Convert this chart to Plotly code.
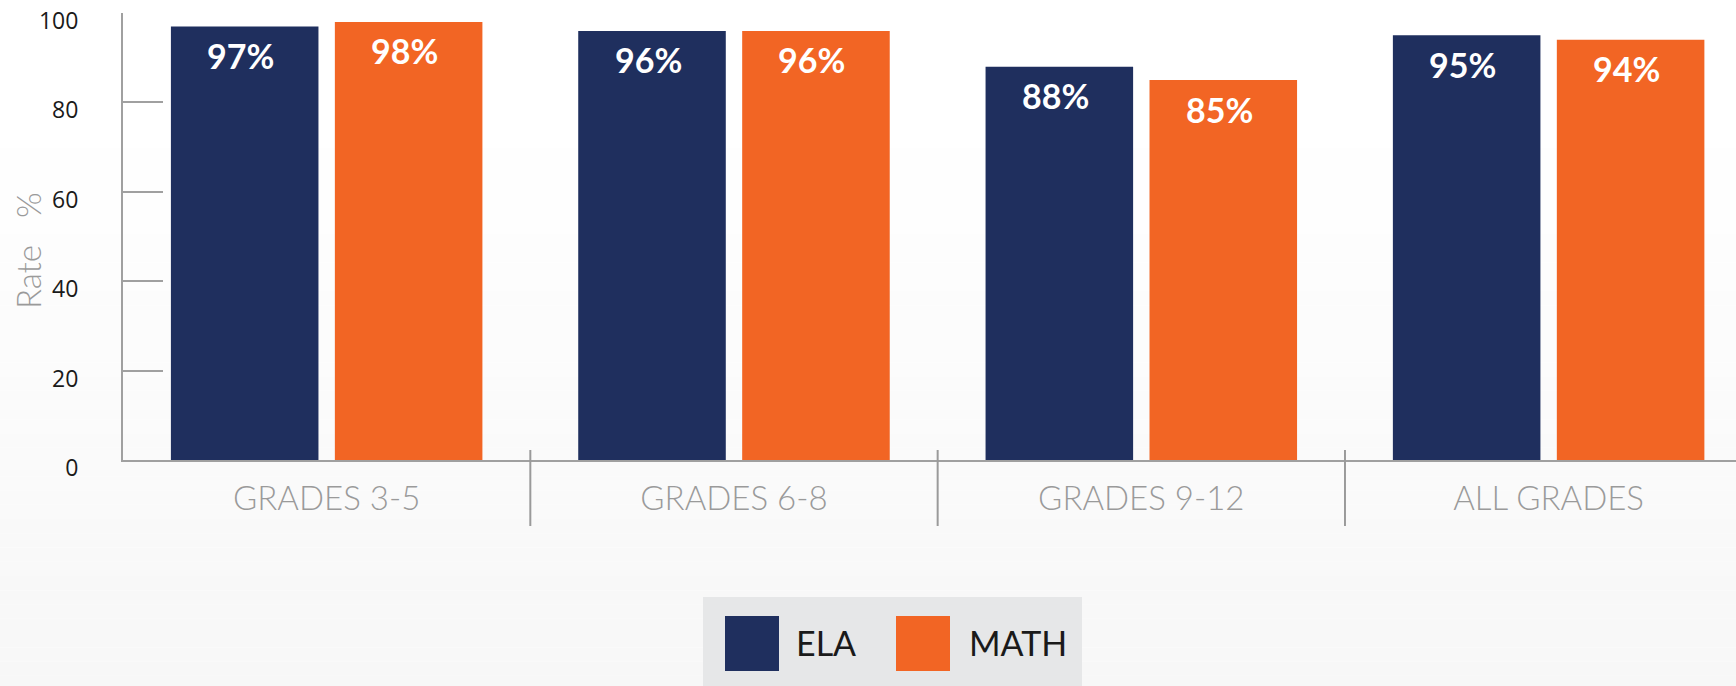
import plotly.graph_objects as go

categories = ["GRADES 3-5", "GRADES 6-8", "GRADES 9-12", "ALL GRADES"]
series_names = ["ELA", "MATH"]
ela_values = [97, 96, 88, 95]
math_values = [98, 96, 85, 94]
y_ticks = [0, 20, 40, 60, 80, 100]
colors = ["#1f2f5e", "#f26524"]

W, H = 1736, 686
ML, MR, MT, MB = 123, 0, 13, 226
PW = W - ML - MR
PH = H - MT - MB
BARGAP = 0.195
BARGROUPGAP = 0.10
XMAX = 3.46
cat_px = PW / (XMAX + 0.5)

def px_x(px):
    return (px - ML) / PW

def px_y(py):
    return (H - MB - py) / PH

fig = go.Figure()
for name, vals, col in zip(series_names, [ela_values, math_values], colors):
    fig.add_trace(go.Bar(x=categories, y=vals, name=name, marker=dict(color=col, line=dict(width=0)),
                         showlegend=False))

shapes = []
# background gradient
n = 40
top, bot = 120, 690
for i in range(n):
    y0p = top + (bot - top) * i / n
    y1p = top + (bot - top) * (i + 1) / n
    t = (i + 0.5) / n
    c = int(round(255 - 8 * t))
    shapes.append(dict(type="rect", xref="paper", yref="paper", x0=px_x(-2), x1=px_x(1740),
                       y0=px_y(y1p), y1=px_y(y0p), fillcolor=f"rgb({c},{c},{c})",
                       line=dict(width=0), layer="below"))
# category dividers
for b in [0.5, 1.5, 2.5]:
    shapes.append(dict(type="line", xref="x", yref="paper", x0=b, x1=b, y0=px_y(526), y1=px_y(450),
                       line=dict(color="#9a9a9a", width=2)))
# legend box
shapes.append(dict(type="rect", xref="paper", yref="paper", x0=px_x(703), x1=px_x(1082),
                   y0=px_y(690), y1=px_y(597), fillcolor="#e6e7e8", line=dict(width=0)))
sw_x = [725, 896]
txt_x = [794, 967]
for i, (name, col) in enumerate(zip(series_names, colors)):
    shapes.append(dict(type="rect", xref="paper", yref="paper", x0=px_x(sw_x[i]), x1=px_x(sw_x[i] + 54),
                       y0=px_y(671), y1=px_y(616), fillcolor=col, line=dict(width=0)))

annotations = []
for i, name in enumerate(series_names):
    annotations.append(dict(xref="paper", yref="paper", x=px_x(txt_x[i]), y=px_y(642), text=name,
                            showarrow=False, xanchor="left", yanchor="middle",
                            font=dict(family="Lato", size=34, color="#1a1a1a")))

# bar value labels
slot = cat_px * (1 - BARGAP) / 2
for k, vals in enumerate([ela_values, math_values]):
    off = (k - 0.5) * slot - 4
    for c, v in zip(categories, vals):
        annotations.append(dict(x=c, y=v, xref="x", yref="y", text=f"{v}%", showarrow=False,
                                xshift=off, yshift=-29, yanchor="middle",
                                font=dict(family="Lato", size=34, color="white", weight="bold")))

annotations.append(dict(xref="paper", yref="paper", x=px_x(28), y=px_y(251), text="Rate\u00a0\u00a0\u00a0%",
                        textangle=-90, showarrow=False, xanchor="center", yanchor="middle",
                        font=dict(family="Lato", size=33, color="#9a9a9a", weight=300)))

fig.update_layout(
    width=W, height=H,
    margin=dict(l=ML, r=MR, t=MT, b=MB, pad=0, autoexpand=False),
    paper_bgcolor="white", plot_bgcolor="rgba(0,0,0,0)",
    barmode="group", bargap=BARGAP, bargroupgap=BARGROUPGAP,
    shapes=shapes, annotations=annotations, showlegend=False,
    xaxis=dict(range=[-0.5, XMAX], showline=True, linecolor="#a0a0a0", linewidth=2,
               ticks="", showgrid=False, zeroline=False, ticklabelstandoff=8, automargin=False,
               tickfont=dict(family="Lato", size=33, color="#9a9a9a", weight=300)),
    yaxis=dict(range=[0, 100.001], tickvals=y_ticks, showline=True, linecolor="#a0a0a0", linewidth=2,
               ticks="inside", ticklen=40, tickwidth=2, tickcolor="#a0a0a0", automargin=False,
               showgrid=False, zeroline=False, ticklabelstandoff=38, ticklabeloverflow="allow",
               ticklabelshift=8,
               tickfont=dict(family="Open Sans", size=23, color="#1a1a1a")),
)

fig.write_html("out.html", config={"displayModeBar": False},
               post_script="document.body.style.margin='0';document.body.style.overflow='hidden';")
